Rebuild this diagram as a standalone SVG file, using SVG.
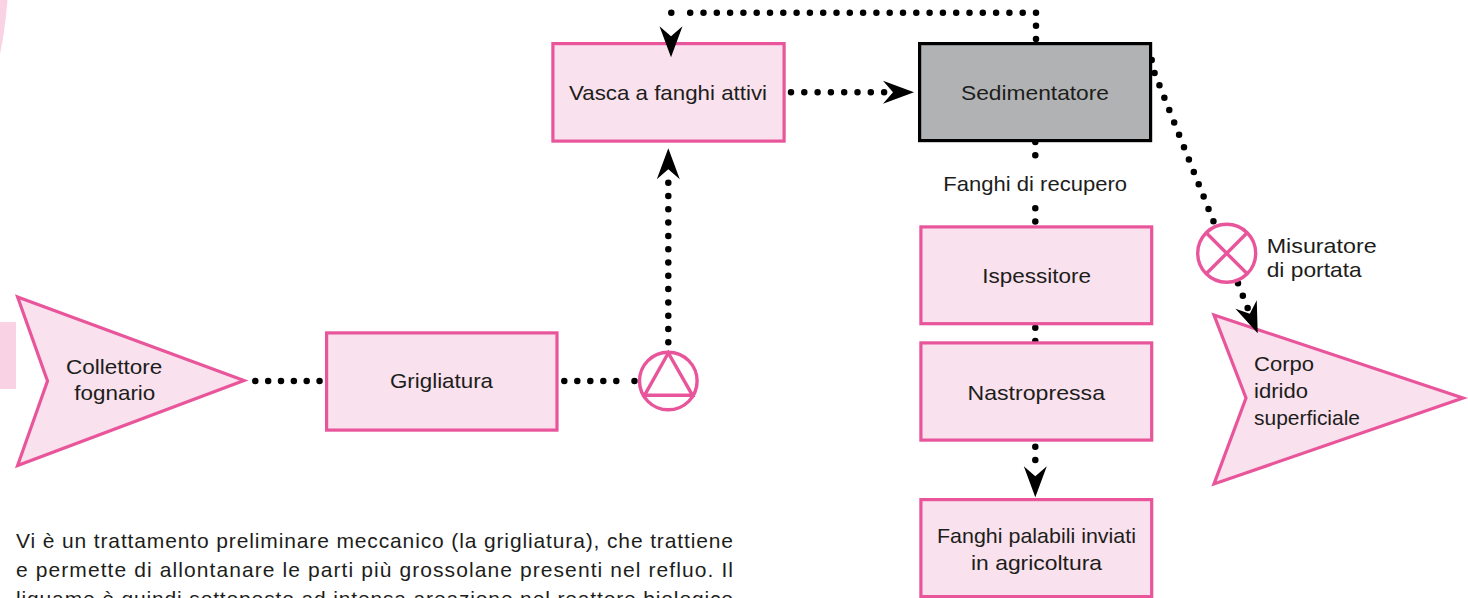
<svg xmlns="http://www.w3.org/2000/svg" width="1468" height="598" viewBox="0 0 1468 598">
<style>
text{font-family:"Liberation Sans","Noto Sans",sans-serif;font-size:21px;fill:#1d1d1b}
.box{fill:#f9e1ed;stroke:#e9559b;stroke-width:3.2;stroke-miterlimit:10}
.gray{fill:#b1b2b4;stroke:#000;stroke-width:3.2}
.sym{fill:#fff;stroke:#e9559b;stroke-width:3.4}
.symline{fill:none;stroke:#e9559b;stroke-width:3.4}
.dots{fill:none;stroke:#000;stroke-width:6.5;stroke-linecap:round;stroke-dasharray:0 13.3}
</style>
<defs>
<path id="arrow" d="M0 0L-31-11.5L-21 0L-31 11.5Z" fill="#000"/>
</defs>
<g id="background">
<path d="M0 0H7.5Q5 30 0 54Z" fill="#f9d3e3"/>
<rect x="0" y="322" width="16" height="67" fill="#f9d3e3"/>
</g>
<g id="connectors">
<path class="dots" d="M1036 39V12.7"/>
<path class="dots" d="M1036 12.7H689.5"/>
<path class="dots" d="M671.3 12.7V26"/>
<path class="dots" d="M791 92.3H885"/>
<path class="dots" d="M668.3 342.3V180"/>
<path class="dots" style="stroke-dasharray:0 12.85" d="M255.3 381H320"/>
<path class="dots" style="stroke-dasharray:0 13" d="M564.3 381H617"/>
<path class="dots" d="M634.5 381h.01"/>
<path class="dots" d="M1035.3 142V156"/>
<path class="dots" d="M1035.3 208.3V222"/>
<path class="dots" d="M1035.3 327.700V341.500"/>
<path class="dots" d="M1035.3 446.7V460.5"/>
<path class="dots" d="M1151.7 60L1154.3 72.3L1159.2 84.7L1213.5 221.5"/>
<path class="dots" d="M1238 283.3L1248 309"/>
</g>
<g id="vasca"><rect class="box" x="552.9" y="43.6" width="231.2" height="97.5"/><text x="569" y="100" textLength="198" lengthAdjust="spacingAndGlyphs">Vasca a fanghi attivi</text></g>
<g id="sedimentatore"><rect class="gray" x="919.6" y="43.6" width="231" height="97"/><text x="961" y="100" textLength="148" lengthAdjust="spacingAndGlyphs">Sedimentatore</text></g>
<g id="ispessitore"><rect class="box" x="920.9" y="226.9" width="230.8" height="96.8"/><text x="982.3" y="283" textLength="108.700" lengthAdjust="spacingAndGlyphs">Ispessitore</text></g>
<g id="nastropressa"><rect class="box" x="920.9" y="342.9" width="230.8" height="97.2"/><text x="967.5" y="400" textLength="137.500" lengthAdjust="spacingAndGlyphs">Nastropressa</text></g>
<g id="fanghi-palabili"><rect class="box" x="920.9" y="499.6" width="230.8" height="97"/><text x="937" y="543" textLength="199" lengthAdjust="spacingAndGlyphs">Fanghi palabili inviati</text><text x="971" y="570" textLength="131" lengthAdjust="spacingAndGlyphs">in agricoltura</text></g>
<g id="grigliatura"><rect class="box" x="326.6" y="332.9" width="230.4" height="97.200"/><text x="390" y="388" textLength="103" lengthAdjust="spacingAndGlyphs">Grigliatura</text></g>
<g id="collettore"><path class="box" d="M17.6 297L244 380.500L17.6 465.500L47.500 381Z"/><text x="66" y="374" textLength="96.300" lengthAdjust="spacingAndGlyphs">Collettore</text><text x="74.300" y="400" textLength="81" lengthAdjust="spacingAndGlyphs">fognario</text></g>
<g id="corpo"><path class="box" d="M1214 315L1463 398L1214 484L1246 398Z"/><text x="1254" y="371" textLength="60" lengthAdjust="spacingAndGlyphs">Corpo</text><text x="1254" y="398" textLength="54" lengthAdjust="spacingAndGlyphs">idrido</text><text x="1254" y="425" textLength="106" lengthAdjust="spacingAndGlyphs">superficiale</text></g>
<g id="pompa"><circle class="sym" cx="668.300" cy="381" r="28.800"/><path class="symline" d="M668.300 353L644.500 395.300H692.500Z"/></g>
<g id="misuratore"><circle class="sym" cx="1226.700" cy="253.300" r="29"/><path class="symline" d="M1206.200 232.800L1247.200 273.800M1247.200 232.800L1206.200 273.800"/><text x="1266.700" y="253.300" textLength="110" lengthAdjust="spacingAndGlyphs">Misuratore</text><text x="1266.700" y="277.300" textLength="95" lengthAdjust="spacingAndGlyphs">di portata</text></g>
<text x="943.300" y="191" textLength="183.700" lengthAdjust="spacingAndGlyphs">Fanghi di recupero</text>
<g id="arrowheads">
<use href="#arrow" transform="translate(671 57.300) rotate(90)"/>
<use href="#arrow" transform="translate(668.300 148.300) rotate(-90)"/>
<use href="#arrow" transform="translate(914 92.300)"/>
<use href="#arrow" transform="translate(1035.300 497.300) rotate(90)"/>
<use href="#arrow" transform="translate(1257.700 333.300) rotate(68)"/>
</g>
<g id="testo">
<text x="16" y="548" textLength="717" lengthAdjust="spacing">Vi è un trattamento preliminare meccanico (la grigliatura), che trattiene</text>
<text x="16" y="577" textLength="717" lengthAdjust="spacing">e permette di allontanare le parti più grossolane presenti nel refluo. Il</text>
<text x="16" y="606" textLength="717" lengthAdjust="spacing">liquame è quindi sottoposto ad intensa areazione nel reattore biologico</text>
</g>
</svg>
